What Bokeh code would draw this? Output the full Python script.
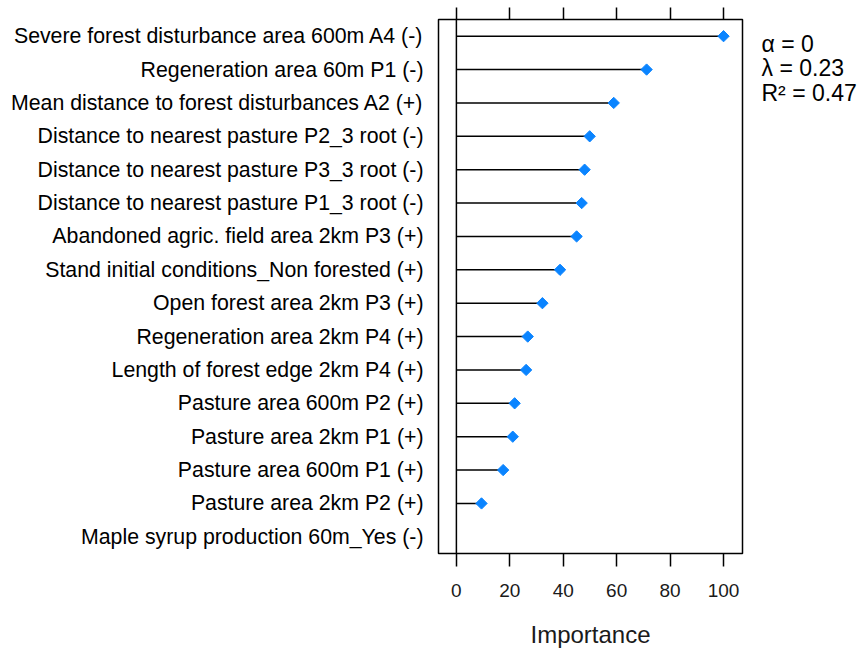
import math
from bokeh.plotting import figure
from bokeh.layouts import row
from bokeh.models import Range1d, FactorRange, LinearAxis, FixedTicker, Span, ColumnDataSource
from bokeh.core.properties import value
from bokeh.embed import file_html
from bokeh.resources import INLINE

# Variable importance, top to bottom
variables = [
    "Severe forest disturbance area 600m A4 (-)",
    "Regeneration area 60m P1 (-)",
    "Mean distance to forest disturbances A2 (+)",
    "Distance to nearest pasture P2_3 root (-)",
    "Distance to nearest pasture P3_3 root (-)",
    "Distance to nearest pasture P1_3 root (-)",
    "Abandoned agric. field area 2km P3 (+)",
    "Stand initial conditions_Non forested (+)",
    "Open forest area 2km P3 (+)",
    "Regeneration area 2km P4 (+)",
    "Length of forest edge 2km P4 (+)",
    "Pasture area 600m P2 (+)",
    "Pasture area 2km P1 (+)",
    "Pasture area 600m P1 (+)",
    "Pasture area 2km P2 (+)",
    "Maple syrup production 60m_Yes (-)",
]
importance = [100.0, 71.2, 58.9, 49.9, 48.0, 46.9, 45.0, 38.8, 32.2, 26.7,
              26.1, 21.8, 21.1, 17.5, 9.4, 0.0]
x_ticks = [0, 20, 40, 60, 80, 100]
model_stats = ["α = 0", "λ = 0.23", "R² = 0.47"]

FONT = "Liberation Sans"

p = figure(
    width=750, height=650,
    x_range=Range1d(-6.7, 107.1),
    y_range=FactorRange(factors=variables[::-1]),
    output_backend="svg", toolbar_location=None,
    min_border_left=438, min_border_right=8,
    min_border_top=19, min_border_bottom=97,
)
p.grid.visible = False
p.outline_line_color = "black"
p.outline_line_width = 1.5
p.background_fill_color = "white"
p.border_fill_color = "white"

src = ColumnDataSource(dict(var=variables, imp=importance, zero=[0] * len(variables)))
p.segment(x0="zero", y0="var", x1="imp", y1="var", source=src,
          line_color="black", line_width=1.5)

pts = ColumnDataSource(dict(
    var=[v for v, i in zip(variables, importance) if i > 0],
    imp=[i for i in importance if i > 0],
))
p.scatter(x="imp", y="var", source=pts, marker="square", size=8,
          angle=math.pi / 4, fill_color="#0a84ff", line_color="#0a84ff")

p.add_layout(Span(location=0, dimension="height", line_color="black", line_width=1.5))

# bottom axis
xa = p.xaxis[0]
xa.ticker = FixedTicker(ticks=x_ticks)
xa.axis_label = "Importance"
xa.axis_label_text_font = FONT
xa.axis_label_text_font_size = "24px"
xa.axis_label_text_font_style = "normal"
xa.axis_label_text_color = "#1a1a1a"
xa.axis_label_standoff = 21
xa.major_label_text_font = FONT
xa.major_label_text_font_size = "19px"
xa.major_label_text_color = "#1a1a1a"
xa.major_label_standoff = 17
xa.major_tick_out = 13
xa.major_tick_in = 0
xa.major_tick_line_width = 1.5
xa.minor_tick_line_color = None
xa.axis_line_color = None

# top axis: ticks only
top = LinearAxis(ticker=FixedTicker(ticks=x_ticks))
top.major_label_text_alpha = 0
top.major_label_text_font_size = "1px"
top.major_label_standoff = 0
top.major_tick_out = 12
top.major_tick_in = 0
top.major_tick_line_width = 1.5
top.minor_tick_line_color = None
top.axis_line_color = None
p.add_layout(top, "above")

# left axis: labels only
ya = p.yaxis[0]
ya.major_label_text_font = FONT
ya.major_label_text_font_size = "21.3px"
ya.major_label_text_color = "black"
ya.major_label_standoff = 15
ya.major_tick_out = 0
ya.major_tick_in = 0
ya.major_tick_line_color = None
ya.minor_tick_line_color = None
ya.axis_line_color = None

# side panel with the model statistics; its frame lines up with the main
# panel's frame, so the y range is given in page pixels over that span
side = figure(
    width=116, height=650,
    x_range=Range1d(0, 116), y_range=Range1d(553, 19),
    output_backend="svg", toolbar_location=None,
    min_border=0,
)
side.axis.visible = False
side.grid.visible = False
side.outline_line_color = None
side.border_fill_color = "white"
stats_src = ColumnDataSource(dict(
    x=[11] * len(model_stats),
    y=[43 + 24.5 * k for k in range(len(model_stats))],
    text=model_stats,
))
side.text(x="x", y="y", text="text", source=stats_src,
          text_font=value(FONT), text_font_size=value("23px"),
          text_color="black", text_baseline="alphabetic")

layout = row(p, side, spacing=0)
open("out.html", "w").write(file_html(layout, INLINE))
